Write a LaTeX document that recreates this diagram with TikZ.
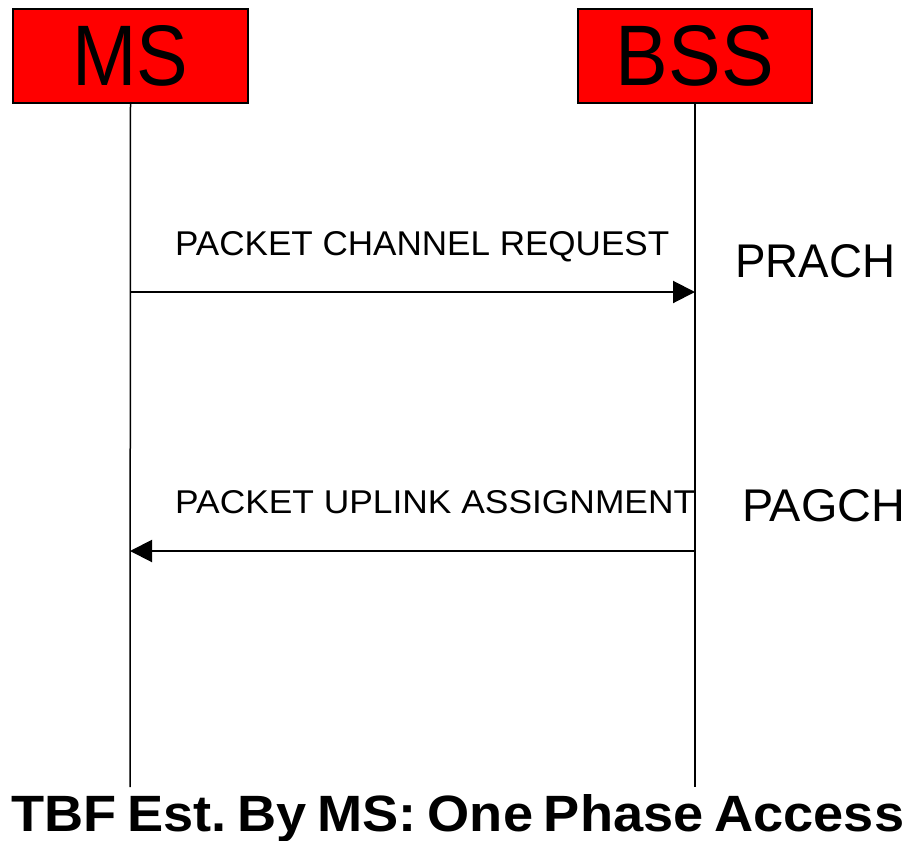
\documentclass[tikz,border=0pt]{standalone}
\usepackage{fontspec}
\setmainfont{Liberation Sans}
\usetikzlibrary{arrows.meta}
\definecolor{boxred}{RGB}{255,0,0}
\tikzset{
  entity/.style={draw=black, line width=2pt, fill=boxred, inner sep=0pt, minimum height=94pt},
  lifeline/.style={line width=1.5pt},
  msg/.style={line width=2pt, -{Triangle[length=22pt,width=22pt]}},
  lbl/.style={inner sep=0pt, anchor=base west},
}
\begin{document}
\begin{tikzpicture}[x=1pt,y=-1pt]
\useasboundingbox (0,0) rectangle (909,840);
\node[entity, minimum width=235pt] (ms) at (130.5,56) {\resizebox{116pt}{60pt}{MS}};
\node[entity, minimum width=234pt] (bss) at (695,56) {\resizebox{158pt}{60pt}{BSS}};
\coordinate (msend) at (130,787);
\coordinate (bssend) at (695,787);
\draw[lifeline] (ms.south) -- (msend);
\draw[lifeline] (bss.south) -- (bssend);
\coordinate (m1) at (130,292);
\coordinate (b1) at (695,292);
\coordinate (m2) at (130,551);
\coordinate (b2) at (695,551);
\draw[msg] (m1) -- (b1);
\draw[msg] (b2) -- (m2);
\node[lbl] (req) at (175,255) {\resizebox{494pt}{24pt}{PACKET CHANNEL REQUEST}};
\node[lbl] (prach) at (735,277) {\resizebox{160pt}{33pt}{PRACH}};
\node[lbl] (asg) at (175,513) {\resizebox{520pt}{23pt}{PACKET UPLINK ASSIGNMENT}};
\node[lbl] (pagch) at (742,521) {\resizebox{163pt}{32pt}{PAGCH}};
\node[lbl] (title) at (11,831) {\resizebox{893pt}{37pt}{\bfseries\spaceskip=0.2em\xspaceskip=0.2em TBF Est. By MS: One Phase Access}};
\end{tikzpicture}
\end{document}
